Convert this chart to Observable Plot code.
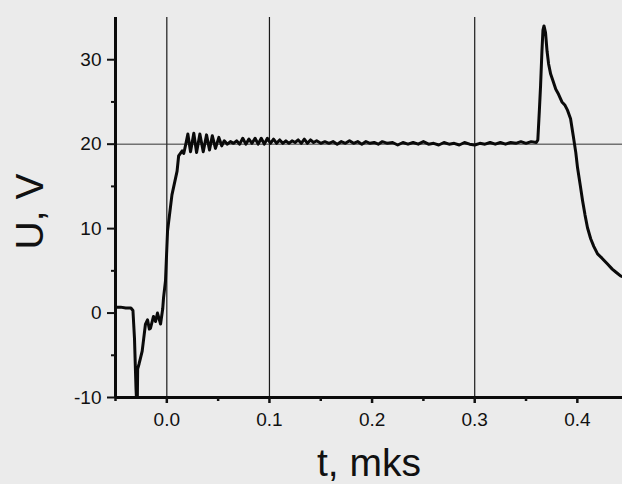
<!DOCTYPE html>
<html>
<head>
<meta charset="utf-8">
<script src="https://cdn.jsdelivr.net/npm/d3@7"></script>
<script src="https://cdn.jsdelivr.net/npm/@observablehq/plot@0.6"></script>
<style>
  html, body { margin: 0; padding: 0; background: #ebebeb; }
  #chart svg { display: block; }
</style>
</head>
<body>
<div id="chart"></div>
<script>
// Time, mks
const tValues = [
  -0.050, -0.045, -0.040, -0.035, -0.0330, -0.0315, -0.0300, -0.0292, -0.0288, -0.0284,
  -0.0270, -0.0256, -0.0240, -0.0227, -0.0208, -0.0188, -0.0170, -0.0159, -0.0130, -0.0110,
  -0.0091, -0.0061, -0.0040, -0.0032, -0.0013, 0.0007, 0.0050, 0.0100, 0.0115, 0.0150,
  0.0165, 0.0185, 0.0205, 0.0231, 0.0263, 0.0290, 0.0322, 0.0355, 0.0387, 0.0416,
  0.0443, 0.0474, 0.0507, 0.0535, 0.0560, 0.0590, 0.0620, 0.0650, 0.0680, 0.0710,
  0.0740, 0.0770, 0.0800, 0.0830, 0.0860, 0.0890, 0.0920, 0.0950, 0.0980, 0.1010,
  0.1040, 0.1070, 0.1100, 0.1130, 0.1160, 0.1190, 0.1220, 0.1250, 0.1280, 0.1310,
  0.1340, 0.1370, 0.1400, 0.1430, 0.1460, 0.1500, 0.1540, 0.1580, 0.1620, 0.1660,
  0.1700, 0.1740, 0.1780, 0.1820, 0.1860, 0.1900, 0.1940, 0.1980, 0.2020, 0.2060,
  0.2100, 0.2150, 0.2200, 0.2250, 0.2300, 0.2350, 0.2400, 0.2450, 0.2500, 0.2550,
  0.2600, 0.2650, 0.2700, 0.2750, 0.2800, 0.2850, 0.2900, 0.2950, 0.3000, 0.3050,
  0.3100, 0.3150, 0.3200, 0.3250, 0.3300, 0.3350, 0.3400, 0.3450, 0.3500, 0.3550,
  0.3600, 0.3615, 0.3630, 0.3642, 0.3655, 0.3665, 0.3675, 0.3690, 0.3705, 0.3720,
  0.3740, 0.3760, 0.3790, 0.3817, 0.3850, 0.3880, 0.3905, 0.3934, 0.3960, 0.3985,
  0.4002, 0.4030, 0.4051, 0.4075, 0.4099, 0.4130, 0.4160, 0.4197, 0.4240, 0.4294,
  0.4340, 0.4380, 0.4421, 0.4440
];
// Voltage, V
const uValues = [
  0.7, 0.7, 0.6, 0.6, 0.3, -3.0, -9.0, -11.0, -11.0, -6.6,
  -6.0, -5.3, -4.5, -3.2, -1.3, -0.8, -1.9, -1.8, -0.4, -1.0,
  0.0, -1.3, 0.5, 1.8, 3.8, 9.7, 14.0, 16.8, 18.6, 19.2,
  18.9, 20.0, 21.2, 19.1, 21.3, 19.0, 21.2, 19.1, 21.1, 19.3,
  21.0, 19.5, 20.8, 19.8, 20.4, 20.0, 20.3, 20.1, 20.4, 20.0,
  20.7, 20.0, 20.6, 20.1, 20.7, 20.0, 20.7, 20.0, 20.7, 20.1,
  20.6, 20.1, 20.5, 20.1, 20.4, 20.1, 20.4, 20.2, 20.5, 20.1,
  20.6, 20.1, 20.5, 20.2, 20.4, 20.1, 20.3, 20.1, 20.3, 20.0,
  20.3, 20.1, 20.4, 20.1, 20.3, 20.0, 20.3, 20.1, 20.2, 20.0,
  20.3, 20.1, 20.2, 19.9, 20.2, 20.0, 20.2, 20.0, 20.3, 20.0,
  20.1, 19.9, 20.2, 20.0, 20.1, 19.9, 20.2, 20.0, 19.9, 20.1,
  20.0, 20.2, 20.0, 20.2, 20.0, 20.2, 20.1, 20.3, 20.1, 20.3,
  20.2, 20.5, 24.0, 27.0, 31.0, 33.5, 34.0, 33.2, 31.0, 29.5,
  28.3, 27.6, 26.5, 25.9, 25.0, 24.6, 24.0, 23.0, 21.0, 19.0,
  17.2, 15.0, 13.3, 11.6, 10.1, 8.8, 7.9, 7.0, 6.5, 5.8,
  5.2, 4.8, 4.4, 4.3
];

const xMajorTicks = [0, 0.1, 0.2, 0.3, 0.4];
const xMinorTicks = [-0.05, 0.05, 0.15, 0.25, 0.35];
const yMajorTicks = [-10, 0, 10, 20, 30];
const yMinorTicks = [-5, 5, 15, 25];
const verticalMarkers = [0, 0.1, 0.3];
const levelLine = [20];
const xDomain = [-0.05, 0.444];
const yDomain = [-10, 35];
const xLabel = "t, mks";
const yLabel = "U, V";

const data = tValues.map((t, i) => ({t, u: uValues[i]}));

const chart = Plot.plot({
  width: 622,
  height: 484,
  marginLeft: 115,
  marginRight: 0,
  marginTop: 17,
  marginBottom: 87,
  style: {background: "#ebebeb", fontFamily: "'Liberation Sans', Arial, sans-serif", color: "#111"},
  x: {domain: xDomain},
  y: {domain: yDomain},
  marks: [
    Plot.ruleX(verticalMarkers, {stroke: "#1a1a1a", strokeWidth: 1.2}),
    Plot.ruleY(levelLine, {stroke: "#333", strokeWidth: 1}),
    Plot.line(data, {x: "t", y: "u", stroke: "#0a0a0a", strokeWidth: 3, strokeLinejoin: "round", clip: true}),
    Plot.ruleX([xDomain[0]], {y1: yDomain[0], y2: yDomain[1], stroke: "#0a0a0a", strokeWidth: 3}),
    Plot.ruleY([yDomain[0]], {x1: xDomain[0], x2: xDomain[1], stroke: "#0a0a0a", strokeWidth: 3}),
    Plot.axisY({ticks: yMajorTicks, tickSize: 8, tickPadding: 6, fontSize: 19, strokeWidth: 2, label: null, tickFormat: d => String(d)}),
    Plot.axisY({ticks: yMinorTicks, tickSize: 4, text: null, strokeWidth: 2, label: null}),
    Plot.axisX({ticks: xMajorTicks, tickSize: 6, tickPadding: 9, fontSize: 19, strokeWidth: 2.5, tickFormat: d3.format(".1f"), label: null}),
    Plot.axisX({ticks: xMinorTicks, tickSize: 4, text: null, strokeWidth: 2.5, label: null}),
    Plot.text([xLabel], {frameAnchor: "bottom", dy: 66, fontSize: 39, lineAnchor: "middle", textAnchor: "middle", fill: "#111"}),
    Plot.text([yLabel], {frameAnchor: "left", dx: -85, dy: 4, rotate: -90, fontSize: 39, lineAnchor: "middle", textAnchor: "middle", fill: "#111"})
  ]
});
document.getElementById("chart").appendChild(chart);
</script>
</body>
</html>
